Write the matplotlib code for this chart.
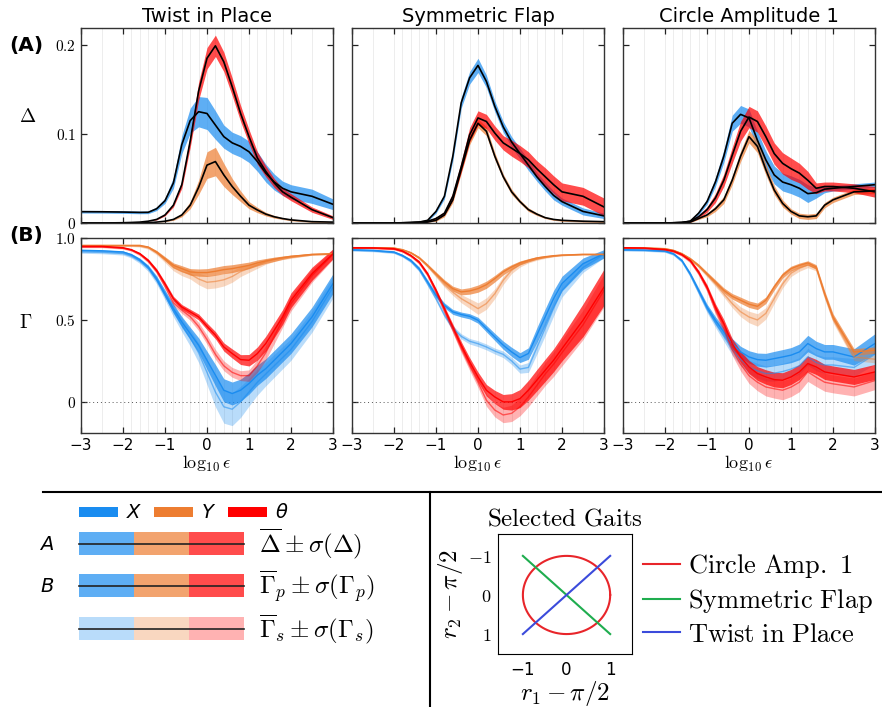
import matplotlib.pyplot as plt
from matplotlib.lines import Line2D
from matplotlib.patches import Rectangle
import numpy as np

plt.rcParams['mathtext.fontset'] = 'cm'

# log10(epsilon) mintavételi pontok
eps_log = [-3, -2.5, -2, -1.8, -1.6, -1.4, -1.2, -1, -0.8, -0.6, -0.4, -0.2, 0,
           0.2, 0.4, 0.6, 0.8, 1, 1.2, 1.4, 1.6, 1.8, 2, 2.5, 3]

gaits = ['Twist in Place', 'Symmetric Flap', 'Circle Amplitude 1']

# ---- (A) Delta: átlag és szórás ----
delta_X_twist = [0.0127, 0.0126, 0.0123, 0.0121, 0.0119, 0.0120, 0.016, 0.025, 0.045, 0.088, 0.115, 0.125, 0.123,
                 0.110, 0.097, 0.090, 0.086, 0.080, 0.069, 0.056, 0.046, 0.039, 0.035, 0.030, 0.021]
delta_X_twist_sd = [0.0015, 0.0015, 0.0015, 0.0015, 0.0015, 0.0015, 0.002, 0.003, 0.006, 0.010, 0.014, 0.017, 0.018,
                    0.016, 0.013, 0.012, 0.012, 0.012, 0.011, 0.010, 0.009, 0.008, 0.008, 0.008, 0.006]
delta_Y_twist = [0, 0, 0, 0, 0, 0.0003, 0.001, 0.002, 0.004, 0.009, 0.020, 0.040, 0.065,
                 0.069, 0.054, 0.041, 0.030, 0.020, 0.0146, 0.010, 0.007, 0.005, 0.0035, 0.0015, 0.001]
delta_Y_twist_sd = [0, 0, 0, 0, 0, 0, 0, 0.0005, 0.001, 0.002, 0.004, 0.008, 0.015,
                    0.016, 0.013, 0.009, 0.006, 0.004, 0.003, 0.002, 0.0015, 0.001, 0.001, 0.0008, 0.0005]
delta_T_twist = [0, 0, 0.0003, 0.0006, 0.001, 0.002, 0.004, 0.009, 0.020, 0.043, 0.092, 0.148, 0.185,
                 0.199, 0.181, 0.153, 0.123, 0.097, 0.073, 0.058, 0.045, 0.035, 0.029, 0.015, 0.006]
delta_T_twist_sd = [0, 0, 0, 0, 0, 0, 0.0005, 0.001, 0.002, 0.004, 0.007, 0.010, 0.012,
                    0.012, 0.011, 0.010, 0.009, 0.008, 0.007, 0.006, 0.005, 0.004, 0.004, 0.003, 0.002]

delta_X_flap = [0, 0, 0, 0.0003, 0.0006, 0.001, 0.003, 0.013, 0.030, 0.075, 0.135, 0.163, 0.177,
                0.159, 0.131, 0.108, 0.091, 0.078, 0.065, 0.052, 0.041, 0.031, 0.024, 0.013, 0.008]
delta_X_flap_sd = [0, 0, 0, 0, 0, 0, 0.001, 0.002, 0.003, 0.005, 0.006, 0.007, 0.008,
                   0.007, 0.006, 0.006, 0.006, 0.006, 0.006, 0.005, 0.005, 0.005, 0.004, 0.004, 0.003]
delta_Y_flap = [0, 0, 0, 0, 0.0002, 0.0005, 0.001, 0.003, 0.009, 0.026, 0.060, 0.093, 0.112,
                0.103, 0.075, 0.052, 0.035, 0.024, 0.015, 0.010, 0.006, 0.004, 0.003, 0.002, 0.0015]
delta_Y_flap_sd = [0, 0, 0, 0, 0, 0, 0, 0.001, 0.002, 0.003, 0.004, 0.005, 0.005,
                   0.005, 0.004, 0.003, 0.003, 0.002, 0.002, 0.0015, 0.001, 0.001, 0.001, 0.001, 0.001]
delta_T_flap = [0, 0, 0, 0.0002, 0.0005, 0.001, 0.002, 0.005, 0.011, 0.030, 0.063, 0.099, 0.118,
                0.114, 0.101, 0.090, 0.084, 0.078, 0.071, 0.061, 0.052, 0.043, 0.035, 0.030, 0.018]
delta_T_flap_sd = [0, 0, 0, 0, 0, 0, 0.001, 0.001, 0.002, 0.004, 0.006, 0.008, 0.008,
                   0.008, 0.008, 0.008, 0.009, 0.009, 0.009, 0.009, 0.010, 0.010, 0.010, 0.010, 0.010]

delta_X_circ = [0, 0, 0, 0.0003, 0.0006, 0.002, 0.011, 0.024, 0.046, 0.075, 0.112, 0.122, 0.118,
                0.093, 0.071, 0.054, 0.046, 0.043, 0.039, 0.033, 0.034, 0.038, 0.039, 0.041, 0.043]
delta_X_circ_sd = [0, 0, 0, 0, 0, 0.001, 0.002, 0.003, 0.005, 0.007, 0.009, 0.010, 0.010,
                   0.010, 0.010, 0.010, 0.010, 0.010, 0.010, 0.010, 0.006, 0.004, 0.003, 0.003, 0.003]
delta_Y_circ = [0, 0, 0, 0.0002, 0.0005, 0.001, 0.005, 0.009, 0.016, 0.026, 0.048, 0.075, 0.097,
                0.086, 0.060, 0.037, 0.022, 0.013, 0.008, 0.007, 0.008, 0.020, 0.026, 0.035, 0.036]
delta_Y_circ_sd = [0, 0, 0, 0, 0, 0.0005, 0.001, 0.002, 0.003, 0.004, 0.005, 0.006, 0.007,
                   0.007, 0.006, 0.005, 0.004, 0.003, 0.003, 0.003, 0.003, 0.003, 0.003, 0.003, 0.003]
delta_T_circ = [0, 0, 0, 0.0002, 0.0005, 0.002, 0.007, 0.015, 0.028, 0.048, 0.076, 0.103, 0.119,
                0.114, 0.097, 0.078, 0.067, 0.061, 0.056, 0.048, 0.039, 0.041, 0.041, 0.039, 0.035]
delta_T_circ_sd = [0, 0, 0, 0, 0, 0.001, 0.002, 0.003, 0.005, 0.007, 0.009, 0.011, 0.012,
                   0.012, 0.012, 0.012, 0.012, 0.012, 0.011, 0.010, 0.006, 0.005, 0.005, 0.005, 0.006]

# ---- (B) Gamma_p és Gamma_s ----
gp_X_twist = [0.925, 0.922, 0.915, 0.898, 0.868, 0.823, 0.752, 0.660, 0.569, 0.488, 0.417, 0.346, 0.254,
              0.163, 0.071, 0.051, 0.071, 0.112, 0.163, 0.203, 0.254, 0.305, 0.356, 0.518, 0.722]
gp_X_twist_sd = [0.005, 0.005, 0.006, 0.007, 0.009, 0.012, 0.017, 0.022, 0.028, 0.033, 0.038, 0.045, 0.055,
                 0.065, 0.070, 0.070, 0.068, 0.065, 0.062, 0.060, 0.060, 0.060, 0.060, 0.060, 0.060]
gs_X_twist = [0.915, 0.912, 0.905, 0.888, 0.858, 0.813, 0.742, 0.650, 0.555, 0.470, 0.390, 0.300, 0.180,
              0.060, -0.030, -0.045, 0.000, 0.060, 0.120, 0.170, 0.220, 0.270, 0.320, 0.490, 0.700]
gs_X_twist_sd = [0.008, 0.008, 0.009, 0.010, 0.013, 0.017, 0.022, 0.028, 0.035, 0.042, 0.050, 0.060, 0.075,
                 0.090, 0.100, 0.100, 0.095, 0.085, 0.078, 0.072, 0.070, 0.068, 0.066, 0.065, 0.065]
gp_Y_twist = [0.955, 0.955, 0.955, 0.955, 0.955, 0.945, 0.915, 0.874, 0.833, 0.813, 0.793, 0.789, 0.789,
              0.797, 0.807, 0.813, 0.823, 0.833, 0.848, 0.860, 0.870, 0.880, 0.888, 0.900, 0.904]
gp_Y_twist_sd = [0.003, 0.003, 0.003, 0.003, 0.004, 0.006, 0.009, 0.012, 0.015, 0.018, 0.020, 0.022, 0.024,
                 0.025, 0.025, 0.024, 0.022, 0.020, 0.018, 0.015, 0.013, 0.010, 0.008, 0.005, 0.004]
gs_Y_twist = [0.952, 0.952, 0.952, 0.952, 0.950, 0.940, 0.910, 0.866, 0.820, 0.795, 0.780, 0.750, 0.730,
              0.735, 0.745, 0.765, 0.795, 0.815, 0.835, 0.856, 0.870, 0.878, 0.884, 0.900, 0.904]
gs_Y_twist_sd = [0.004, 0.004, 0.004, 0.004, 0.005, 0.008, 0.012, 0.016, 0.020, 0.025, 0.030, 0.035, 0.040,
                 0.040, 0.038, 0.035, 0.030, 0.025, 0.020, 0.016, 0.013, 0.010, 0.008, 0.005, 0.004]
gp_T_twist = [0.949, 0.949, 0.941, 0.929, 0.905, 0.864, 0.803, 0.720, 0.630, 0.579, 0.549, 0.518, 0.461,
              0.407, 0.335, 0.295, 0.258, 0.254, 0.295, 0.356, 0.437, 0.518, 0.620, 0.782, 0.904]
gp_T_twist_sd = [0.003, 0.003, 0.004, 0.005, 0.006, 0.008, 0.010, 0.012, 0.014, 0.015, 0.016, 0.018, 0.020,
                 0.022, 0.025, 0.028, 0.030, 0.035, 0.040, 0.045, 0.045, 0.045, 0.045, 0.040, 0.030]
gs_T_twist = [0.945, 0.945, 0.937, 0.925, 0.900, 0.858, 0.795, 0.705, 0.605, 0.560, 0.520, 0.460, 0.380,
              0.290, 0.220, 0.180, 0.160, 0.160, 0.220, 0.300, 0.400, 0.500, 0.600, 0.770, 0.900]
gs_T_twist_sd = [0.004, 0.004, 0.005, 0.006, 0.008, 0.010, 0.012, 0.015, 0.018, 0.020, 0.022, 0.025, 0.028,
                 0.030, 0.030, 0.030, 0.030, 0.035, 0.040, 0.045, 0.045, 0.045, 0.045, 0.040, 0.030]

gp_X_flap = [0.929, 0.925, 0.915, 0.894, 0.864, 0.813, 0.732, 0.650, 0.589, 0.549, 0.533, 0.522, 0.498,
             0.447, 0.396, 0.346, 0.305, 0.270, 0.295, 0.407, 0.518, 0.630, 0.722, 0.843, 0.904]
gp_X_flap_sd = [0.004, 0.004, 0.005, 0.006, 0.008, 0.010, 0.012, 0.014, 0.015, 0.015, 0.015, 0.016, 0.018,
                0.020, 0.022, 0.025, 0.028, 0.030, 0.035, 0.045, 0.050, 0.050, 0.045, 0.035, 0.025]
gs_X_flap = [0.925, 0.921, 0.911, 0.890, 0.858, 0.805, 0.720, 0.630, 0.530, 0.450, 0.400, 0.370, 0.355,
             0.335, 0.310, 0.290, 0.250, 0.200, 0.210, 0.330, 0.450, 0.570, 0.680, 0.820, 0.900]
gs_X_flap_sd = [0.005, 0.005, 0.006, 0.007, 0.009, 0.011, 0.013, 0.015, 0.016, 0.016, 0.016, 0.017, 0.018,
                0.018, 0.018, 0.020, 0.022, 0.025, 0.030, 0.040, 0.045, 0.045, 0.040, 0.030, 0.020]
gp_Y_flap = [0.941, 0.941, 0.939, 0.929, 0.911, 0.880, 0.833, 0.782, 0.732, 0.691, 0.671, 0.677, 0.691,
             0.715, 0.752, 0.793, 0.823, 0.848, 0.864, 0.878, 0.886, 0.892, 0.896, 0.900, 0.900]
gp_Y_flap_sd = [0.003, 0.003, 0.003, 0.004, 0.005, 0.007, 0.009, 0.011, 0.013, 0.015, 0.018, 0.020, 0.022,
                0.022, 0.020, 0.018, 0.015, 0.012, 0.010, 0.008, 0.006, 0.005, 0.004, 0.003, 0.003]
gs_Y_flap = [0.940, 0.940, 0.938, 0.928, 0.909, 0.877, 0.828, 0.772, 0.715, 0.670, 0.630, 0.600, 0.569,
             0.600, 0.660, 0.742, 0.803, 0.838, 0.858, 0.872, 0.882, 0.890, 0.895, 0.900, 0.900]
gs_Y_flap_sd = [0.003, 0.003, 0.003, 0.004, 0.005, 0.007, 0.009, 0.012, 0.015, 0.020, 0.025, 0.030, 0.035,
                0.035, 0.030, 0.025, 0.020, 0.015, 0.010, 0.008, 0.006, 0.005, 0.004, 0.003, 0.003]
gp_T_flap = [0.941, 0.940, 0.935, 0.921, 0.894, 0.854, 0.782, 0.681, 0.569, 0.457, 0.346, 0.244, 0.152,
             0.071, 0.030, 0.000, 0.000, 0.020, 0.071, 0.132, 0.193, 0.254, 0.325, 0.498, 0.700]
gp_T_flap_sd = [0.003, 0.003, 0.004, 0.005, 0.006, 0.008, 0.010, 0.012, 0.015, 0.018, 0.022, 0.026, 0.030,
                0.035, 0.040, 0.045, 0.050, 0.055, 0.060, 0.065, 0.068, 0.070, 0.075, 0.100, 0.110]
gs_T_flap = [0.938, 0.937, 0.932, 0.918, 0.890, 0.848, 0.774, 0.670, 0.555, 0.440, 0.325, 0.220, 0.120,
             0.010, -0.050, -0.080, -0.070, -0.030, 0.030, 0.100, 0.170, 0.230, 0.300, 0.470, 0.680]
gs_T_flap_sd = [0.004, 0.004, 0.005, 0.006, 0.007, 0.009, 0.011, 0.014, 0.017, 0.020, 0.024, 0.028, 0.032,
                0.037, 0.042, 0.047, 0.050, 0.055, 0.060, 0.065, 0.070, 0.075, 0.080, 0.090, 0.100]

gp_X_circ = [0.929, 0.927, 0.921, 0.905, 0.864, 0.782, 0.681, 0.579, 0.498, 0.427, 0.356, 0.305, 0.274,
             0.258, 0.254, 0.264, 0.274, 0.285, 0.305, 0.356, 0.325, 0.305, 0.305, 0.274, 0.356]
gp_X_circ_sd = [0.003, 0.003, 0.004, 0.005, 0.007, 0.010, 0.014, 0.018, 0.022, 0.026, 0.030, 0.034, 0.038,
                0.040, 0.042, 0.044, 0.045, 0.046, 0.048, 0.050, 0.045, 0.045, 0.045, 0.050, 0.060]
gs_X_circ = [0.925, 0.923, 0.917, 0.900, 0.858, 0.774, 0.670, 0.565, 0.480, 0.400, 0.320, 0.260, 0.213,
             0.190, 0.173, 0.175, 0.185, 0.200, 0.220, 0.275, 0.240, 0.225, 0.225, 0.210, 0.290]
gs_X_circ_sd = [0.004, 0.004, 0.005, 0.006, 0.008, 0.012, 0.016, 0.020, 0.025, 0.030, 0.034, 0.038, 0.042,
                0.045, 0.046, 0.048, 0.050, 0.050, 0.050, 0.052, 0.050, 0.050, 0.050, 0.055, 0.060]
gp_Y_circ = [0.941, 0.940, 0.935, 0.925, 0.905, 0.874, 0.833, 0.782, 0.732, 0.681, 0.644, 0.620, 0.596,
             0.583, 0.620, 0.701, 0.772, 0.813, 0.833, 0.848, 0.823, 0.661, 0.518, 0.305, 0.315]
gp_Y_circ_sd = [0.003, 0.003, 0.003, 0.004, 0.005, 0.007, 0.009, 0.011, 0.013, 0.015, 0.017, 0.019, 0.020,
                0.020, 0.020, 0.019, 0.017, 0.015, 0.014, 0.013, 0.014, 0.018, 0.020, 0.020, 0.020]
gs_Y_circ = [0.940, 0.939, 0.934, 0.924, 0.903, 0.871, 0.828, 0.775, 0.720, 0.660, 0.600, 0.550, 0.518,
             0.500, 0.540, 0.630, 0.720, 0.785, 0.815, 0.835, 0.815, 0.650, 0.505, 0.274, 0.260]
gs_Y_circ_sd = [0.003, 0.003, 0.003, 0.004, 0.005, 0.007, 0.010, 0.013, 0.016, 0.020, 0.025, 0.030, 0.035,
                0.038, 0.035, 0.030, 0.025, 0.020, 0.018, 0.016, 0.016, 0.020, 0.022, 0.022, 0.022]
gp_T_circ = [0.941, 0.939, 0.930, 0.921, 0.900, 0.864, 0.793, 0.701, 0.579, 0.478, 0.356, 0.274, 0.213,
             0.173, 0.152, 0.136, 0.132, 0.152, 0.183, 0.234, 0.213, 0.183, 0.173, 0.152, 0.183]
gp_T_circ_sd = [0.003, 0.003, 0.004, 0.005, 0.006, 0.008, 0.011, 0.015, 0.020, 0.025, 0.030, 0.035, 0.040,
                0.042, 0.044, 0.045, 0.046, 0.046, 0.046, 0.046, 0.046, 0.046, 0.046, 0.046, 0.046]
gs_T_circ = [0.938, 0.936, 0.927, 0.917, 0.895, 0.858, 0.785, 0.690, 0.560, 0.450, 0.320, 0.230, 0.160,
             0.120, 0.091, 0.080, 0.071, 0.090, 0.120, 0.183, 0.150, 0.120, 0.110, 0.091, 0.130]
gs_T_circ_sd = [0.004, 0.004, 0.005, 0.006, 0.007, 0.010, 0.014, 0.018, 0.024, 0.030, 0.036, 0.042, 0.048,
                0.052, 0.055, 0.057, 0.058, 0.058, 0.058, 0.058, 0.056, 0.055, 0.055, 0.055, 0.055]

# Színek
c_X = '#1a8cf0'
c_Y = '#ed7d31'
c_T = '#ff0000'
colors = [c_X, c_Y, c_T]

delta = [
    [(delta_X_twist, delta_X_twist_sd), (delta_Y_twist, delta_Y_twist_sd), (delta_T_twist, delta_T_twist_sd)],
    [(delta_X_flap, delta_X_flap_sd), (delta_Y_flap, delta_Y_flap_sd), (delta_T_flap, delta_T_flap_sd)],
    [(delta_X_circ, delta_X_circ_sd), (delta_Y_circ, delta_Y_circ_sd), (delta_T_circ, delta_T_circ_sd)],
]
gamma = [
    [(gp_X_twist, gp_X_twist_sd, gs_X_twist, gs_X_twist_sd),
     (gp_Y_twist, gp_Y_twist_sd, gs_Y_twist, gs_Y_twist_sd),
     (gp_T_twist, gp_T_twist_sd, gs_T_twist, gs_T_twist_sd)],
    [(gp_X_flap, gp_X_flap_sd, gs_X_flap, gs_X_flap_sd),
     (gp_Y_flap, gp_Y_flap_sd, gs_Y_flap, gs_Y_flap_sd),
     (gp_T_flap, gp_T_flap_sd, gs_T_flap, gs_T_flap_sd)],
    [(gp_X_circ, gp_X_circ_sd, gs_X_circ, gs_X_circ_sd),
     (gp_Y_circ, gp_Y_circ_sd, gs_Y_circ, gs_Y_circ_sd),
     (gp_T_circ, gp_T_circ_sd, gs_T_circ, gs_T_circ_sd)],
]

W, H = 882, 707
fig = plt.figure(figsize=(W / 100, H / 100), dpi=100)


def px_axes(x0, y0, x1, y1):
    # tengely elhelyezése pixelben (bal felső / jobb alsó sarok)
    return fig.add_axes([x0 / W, 1 - y1 / H, (x1 - x0) / W, (y1 - y0) / H])


def style(ax):
    ax.set_xlim(-3, 3)
    ax.set_xticks(range(-3, 4))
    ax.set_xticks(eps_log, minor=True)
    ax.grid(axis='x', which='both', color='#ededed', lw=0.7, zorder=0)
    ax.set_axisbelow(True)
    ax.tick_params(which='major', direction='in', top=True, right=True, length=4, width=0.9,
                   color='#222222', labelsize=11)
    ax.tick_params(which='minor', length=0)
    for s in ax.spines.values():
        s.set_color('#333333')
        s.set_linewidth(1.0)


col_x = [81, 352, 623]
for c in range(3):
    axA = px_axes(col_x[c], 28, col_x[c] + 252, 223)
    axB = px_axes(col_x[c], 238, col_x[c] + 252, 433)
    style(axA)
    style(axB)

    # (A) Delta sávok, majd fekete átlagvonalak
    for (m, sd), col in zip(delta[c], colors):
        m = np.array(m)
        sd = np.array(sd)
        axA.fill_between(eps_log, m - sd, m + sd, color=col, alpha=0.7, lw=0)
    for (m, sd) in delta[c]:
        axA.plot(eps_log, m, color='black', lw=1.2)
    axA.set_ylim(0, 0.219)
    axA.set_yticks([0, 0.1, 0.2])
    axA.tick_params(labelbottom=False)
    axA.set_title(gaits[c], fontsize=14, pad=4)

    # (B) Gamma_s (halvány) és Gamma_p sávok
    axB.axhline(0, color='#555555', lw=0.7, ls=(0, (1, 3)), zorder=1)
    for (mp, sp, ms, ss), col in zip(gamma[c], colors):
        mp, sp, ms, ss = map(np.array, (mp, sp, ms, ss))
        axB.fill_between(eps_log, ms - ss, ms + ss, color=col, alpha=0.3, lw=0)
        axB.fill_between(eps_log, mp - sp, mp + sp, color=col, alpha=0.7, lw=0)
    for (mp, sp, ms, ss), col in zip(gamma[c], colors):
        axB.plot(eps_log, ms, color=col, lw=1.0, alpha=0.55)
        axB.plot(eps_log, mp, color=col, lw=1.0)
    axB.set_ylim(-0.19, 1.0)
    axB.set_yticks([0, 0.5, 1.0])
    axB.set_xlabel(r'$\log_{10}\epsilon$', fontsize=13, labelpad=1)

    if c == 0:
        axA.set_yticklabels(['$0$', '$0.1$', '$0.2$'], fontsize=11)
        axB.set_yticklabels(['$0$', '$0.5$', '$1.0$'], fontsize=11)
        axA.set_ylabel(r'$\Delta$', fontsize=14, rotation=0)
        axA.yaxis.set_label_coords(-0.21, 0.5)
        axB.set_ylabel(r'$\Gamma$', fontsize=14, rotation=0)
        axB.yaxis.set_label_coords(-0.22, 0.52)
    else:
        axA.tick_params(labelleft=False)
        axB.tick_params(labelleft=False)

fig.text(9 / W, 1 - 45 / H, '(A)', fontsize=14.5, fontweight='bold', va='center')
fig.text(9 / W, 1 - 236 / H, '(B)', fontsize=14.5, fontweight='bold', va='center')

# Elválasztó vonalak
fig.add_artist(Line2D([43 / W, 1], [1 - 492 / H] * 2, transform=fig.transFigure, color='black', lw=1.5))
fig.add_artist(Line2D([430 / W] * 2, [0, 1 - 492 / H], transform=fig.transFigure, color='black', lw=1.5))

# Jelmagyarázat (bal oldal), pixel koordinátákban
key = px_axes(0, 492, 430, 707)
key.set_xlim(0, 430)
key.set_ylim(215, 0)
key.axis('off')

top_x = [79, 154, 228]
top_lbl = ['X', 'Y', r'θ']
for x0, col, lbl in zip(top_x, colors, top_lbl):
    key.add_patch(Rectangle((x0, 15), 39, 10, color=col, lw=0))
    key.text(x0 + 48, 20, lbl, fontsize=14, style='italic', va='center')

rows = [(40, 0.7, r'$\overline{\Delta} \pm \sigma(\Delta)$', 'A'),
        (82, 0.7, r'$\overline{\Gamma}_p \pm \sigma(\Gamma_p)$', 'B'),
        (125, 0.3, r'$\overline{\Gamma}_s \pm \sigma(\Gamma_s)$', '')]
seg = [79, 134, 189, 244]
for y0, a, txt, tag in rows:
    for i, col in enumerate(colors):
        key.add_patch(Rectangle((seg[i], y0), seg[i + 1] - seg[i], 23, color=col, alpha=a, lw=0))
    key.plot([seg[0], seg[-1]], [y0 + 11.5, y0 + 11.5], color='#222222', lw=1.2)
    key.text(259, y0 + 12, txt, fontsize=18, va='center')
    if tag:
        key.text(40, y0 + 12, tag, fontsize=14, style='italic', va='center')

# Kiválasztott járásminták
axg = px_axes(498, 534, 632, 654)
t = np.linspace(0, 2 * np.pi, 200)
amp = 1
axg.plot(amp * np.cos(t), amp * np.sin(t), color='#e8252a', lw=1.5, label=r'$\mathrm{Circle\ Amp.\ 1}$')
axg.plot([-1, 1], [-1, 1], color='#1fad4f', lw=1.5, label=r'$\mathrm{Symmetric\ Flap}$')
axg.plot([-1, 1], [1, -1], color='#3b4bdb', lw=1.5, label=r'$\mathrm{Twist\ in\ Place}$')
axg.set_xlim(-1.57, 1.5)
axg.set_ylim(1.51, -1.56)
axg.set_xticks([-1, 0, 1])
axg.set_yticks([-1, 0, 1])
axg.set_xticklabels(['−1', '0', '1'], fontsize=12)
axg.set_yticklabels(['$-1$', '$0$', '$1$'], fontsize=13)
axg.tick_params(length=0, pad=5)
axg.set_xlabel(r'$r_1 - \pi/2$', fontsize=18, labelpad=0)
axg.set_ylabel(r'$r_2 - \pi/2$', fontsize=18, labelpad=2)
axg.set_title(r'$\mathrm{Selected\ Gaits}$', fontsize=18, pad=6)
axg.legend(loc='center left', bbox_to_anchor=(643 / W, 1 - 600 / H), bbox_transform=fig.transFigure,
           frameon=False, fontsize=19, handlelength=1.4, handletextpad=0.3, labelspacing=0.25,
           borderpad=0, borderaxespad=0)

fig.savefig('out.png', dpi=100)
